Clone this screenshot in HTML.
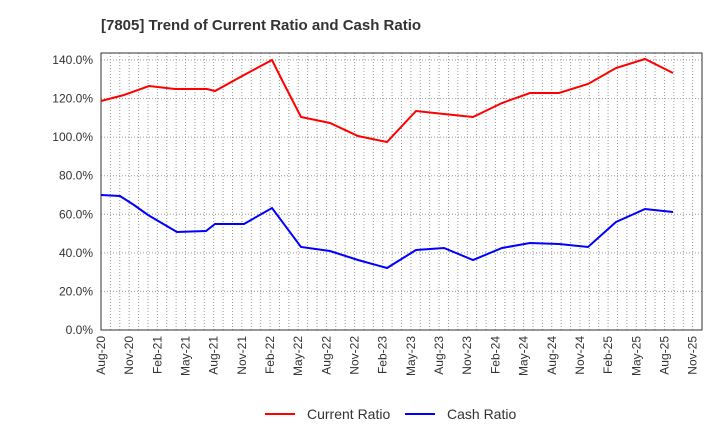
<!DOCTYPE html><html><head><style>body{margin:0;background:#fff}svg{font-family:"Liberation Sans",sans-serif}</style></head><body>
<svg width="720" height="440" xmlns="http://www.w3.org/2000/svg">
<text x="101" y="30" font-size="15" font-weight="bold" fill="#333">[7805]  Trend of Current Ratio and Cash Ratio</text>
<g id="grid" stroke="#999" stroke-dasharray="1,2" stroke-width="1"></g>
<rect x="101" y="53" width="601" height="277" fill="none" stroke="#333"/>
<g id="yl" font-size="12" fill="#333" text-anchor="end"></g>
<g id="xl" font-size="12" fill="#333"></g>
<polyline fill="none" stroke="#f00" stroke-width="2" points="101,101 124,95 149,86 175,89 207,89 215,91 244,75 272,60 282,80 301,117 330,123 358,136 387,142 416,111 444,114 473,117 502,103 530,93 559,93 588,84 616,68 645,59 673,73"/>
<polyline fill="none" stroke="#00f" stroke-width="2" points="101,195 120,196 134,205 148,215 177,232 206,231 215,224 244,224 272,208 301,247 330,251 358,260 387,268 416,250 444,248 473,260 502,248 530,243 559,244 588,247 616,222 645,209 673,212"/>
<line x1="265" y1="414" x2="295" y2="414" stroke="#f00" stroke-width="2"/>
<text x="307" y="419" font-size="14" fill="#333">Current Ratio</text>
<line x1="405" y1="414" x2="435" y2="414" stroke="#00f" stroke-width="2"/>
<text x="447" y="419" font-size="14" fill="#333">Cash Ratio</text>
</svg>
<script>
const ns="http://www.w3.org/2000/svg",g=document.getElementById('grid'),yl=document.getElementById('yl'),xl=document.getElementById('xl');
function el(p,t,a,txt){const e=document.createElementNS(ns,t);for(const k in a)e.setAttribute(k,a[k]);if(txt)e.textContent=txt;p.appendChild(e);}
for(let i=0;i<=7;i++){const y=330-i*38.57;if(i>0)el(g,'line',{x1:101,x2:702,y1:y,y2:y});el(yl,'text',{x:93,y:y+4},(i*20).toFixed(1)+'%');}
const step=601/64;for(let m=1;m<64;m++){const x=101+m*step;el(g,'line',{x1:x,x2:x,y1:53,y2:330});}
const mn=['Aug','Nov','Feb','May'];for(let q=0;q<22;q++){const x=101+q*3*step;const yr=20+Math.floor((q+2)/4);const lab=mn[q%4]+'-'+yr;el(xl,'text',{x:x+4,y:336,transform:'rotate(-90 '+(x+4)+' 336)','text-anchor':'end'},lab);}
</script>
</body></html>
